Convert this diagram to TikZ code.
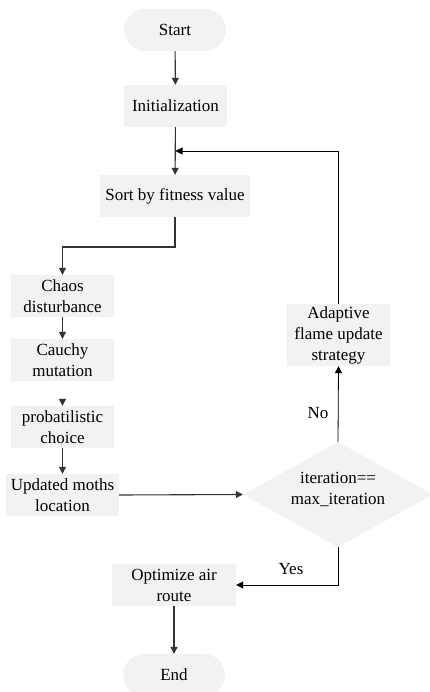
\documentclass[tikz,border=0pt]{standalone}
\usepackage{fontspec}
\setmainfont{Liberation Serif}
\usetikzlibrary{shapes.geometric,arrows.meta}
\begin{document}
\begin{tikzpicture}[x=1pt,y=-1pt,
  every node/.style={font=\fontsize{17}{21}\selectfont, align=center, inner sep=0pt},
  boxnode/.style={fill=black!5, minimum height=42pt},
  termnode/.style={fill=black!5, rounded corners=21pt, minimum width=102pt, minimum height=42pt},
  arrowline/.style={draw=black!80, line width=1.1pt, -{Triangle[length=7pt,width=7pt]}},
  thinarrow/.style={draw=black, line width=0.8pt, -{Triangle[length=7pt,width=7pt]}}]
\useasboundingbox (0,0) rectangle (430,692);
\node[termnode] (start) at (175,30) {Start};
\node[boxnode, minimum width=103pt] (init) at (175.5,106) {Initialization};
\node[boxnode, minimum width=150pt] (sort) at (175,196) {Sort by fitness value};
\node[boxnode, minimum width=103pt] (chaos) at (62.5,296) {Chaos\\disturbance};
\node[boxnode, minimum width=103pt] (cauchy) at (62.5,360) {Cauchy\\mutation};
\node[boxnode, minimum width=103pt] (prob) at (62.5,427) {probatilistic\\choice};
\node[boxnode, minimum width=113pt] (upd) at (62.5,495) {Updated moths\\location};
\node[diamond, fill=black!5, aspect=1.8, minimum width=190pt, minimum height=105pt] (cond) at (338,494.5) {};
\node (condtext) at (338,489) {iteration==\\max\_iteration};
\node[boxnode, minimum width=103pt, minimum height=62pt] (adapt) at (338.5,335) {Adaptive\\flame update\\strategy};
\node[boxnode, minimum width=124pt] (opt) at (174,585) {Optimize air\\route};
\node[termnode] (end) at (174,675) {End};
\node (nolab) at (318,413) {No};
\node (yeslab) at (291,569) {Yes};
\coordinate (merge) at (175.5,151);
\coordinate (bend1) at (175,247);
\coordinate (bend2) at (62.5,247);
\coordinate (loopc) at (338.5,151);
\coordinate (yesc) at (338,585);

\draw[arrowline] (start) -- (init);
\draw[arrowline] (init) -- (sort);
\draw[thinarrow] (adapt.north) -- (loopc) -- (merge);
\draw[arrowline] (sort.south) -- (bend1) -- (bend2) -- (chaos.north);
\draw[arrowline] (chaos) -- (cauchy);
\draw[arrowline, shorten <=18pt] (cauchy) -- (prob);
\draw[arrowline] (prob) -- (upd);
\draw[arrowline] (upd.east) -- (cond.west);
\draw[thinarrow] (cond.north) -- (adapt.south);
\draw[thinarrow] (cond.south) -- (yesc) -- (opt.east);
\draw[arrowline] (opt) -- (end);
\end{tikzpicture}
\end{document}
